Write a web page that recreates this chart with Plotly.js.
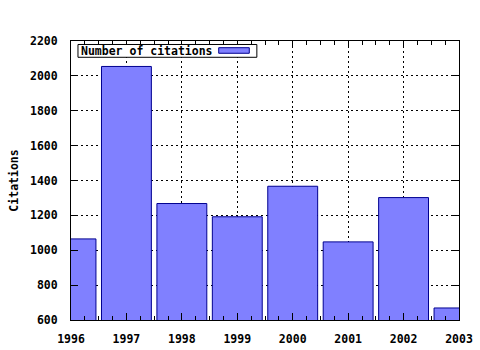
<!DOCTYPE html>
<html>
<head>
<meta charset="utf-8">
<script src="https://cdn.plot.ly/plotly-3.0.1.min.js"></script>
<style>html,body{margin:0;padding:0;background:#fff;}#chart{width:480px;height:350px;}</style>
</head>
<body>
<div id="chart"></div>
<script>
const years = [1996, 1997, 1998, 1999, 2000, 2001, 2002, 2003];
const citations = [1065, 2054, 1268, 1192, 1367, 1048, 1302, 669];
const seriesName = "Number of citations";
const yTickVals = [600, 800, 1000, 1200, 1400, 1600, 1800, 2000, 2200];
const xTickVals = [1996, 1997, 1998, 1999, 2000, 2001, 2002, 2003];

const FONT = "DejaVu Sans Mono, monospace";
const fontStyle = {family: FONT, size: 11.5, color: "#000", weight: "bold"};
const tickFont = {family: FONT, size: 11.5, color: "#000", weight: "bold"};

const trace = {
  type: "bar",
  x: years,
  y: citations,
  name: seriesName,
  width: 0.9,
  marker: {color: "#8080ff", line: {color: "#000090", width: 1}},
  showlegend: false,
  hoverinfo: "x+y"
};

const axisCommon = {
  showline: true, linecolor: "#000", linewidth: 1, mirror: "ticks",
  ticks: "inside", ticklen: 7, tickwidth: 1, tickcolor: "#000",
  showgrid: true, gridcolor: "#000", gridwidth: 1, griddash: "2px,3px",
  zeroline: false, tickfont: tickFont, fixedrange: true
};

const layout = {
  width: 480, height: 350,
  margin: {l: 71, r: 21, t: 41, b: 30, pad: 0},
  paper_bgcolor: "#fff", plot_bgcolor: "#fff",
  font: fontStyle,
  bargap: 0.1,
  xaxis: Object.assign({}, axisCommon, {
    range: [1996, 2003], tickvals: xTickVals, ticktext: xTickVals.map(String),
    ticklabelstandoff: 8,
    minor: {dtick: 0.25, tick0: 1996, ticks: "inside", ticklen: 4, tickcolor: "#000", showgrid: false}
  }),
  yaxis: Object.assign({}, axisCommon, {
    range: [600, 2200], tickvals: yTickVals, ticktext: yTickVals.map(String),
    ticklabelstandoff: 10,
    title: {text: "Citations", font: fontStyle, standoff: 8}
  }),
  shapes: [
    {type: "rect", xref: "paper", yref: "paper", x0: 0.018, x1: 0.479, y0: 0.9416, y1: 0.9875,
     line: {color: "#000", width: 1}, fillcolor: "#fff", layer: "above"},
    {type: "rect", xref: "paper", yref: "paper", x0: 0.3807, x1: 0.4595, y0: 0.956, y1: 0.976,
     line: {color: "#000090", width: 1}, fillcolor: "#8080ff", layer: "above"}
  ],
  annotations: [
    {xref: "paper", yref: "paper", x: 0.0206, y: 0.964, xanchor: "left", yanchor: "middle",
     text: seriesName, showarrow: false, font: fontStyle}
  ]
};

Plotly.newPlot("chart", [trace], layout, {displayModeBar: false, staticPlot: true});
</script>
</body>
</html>
